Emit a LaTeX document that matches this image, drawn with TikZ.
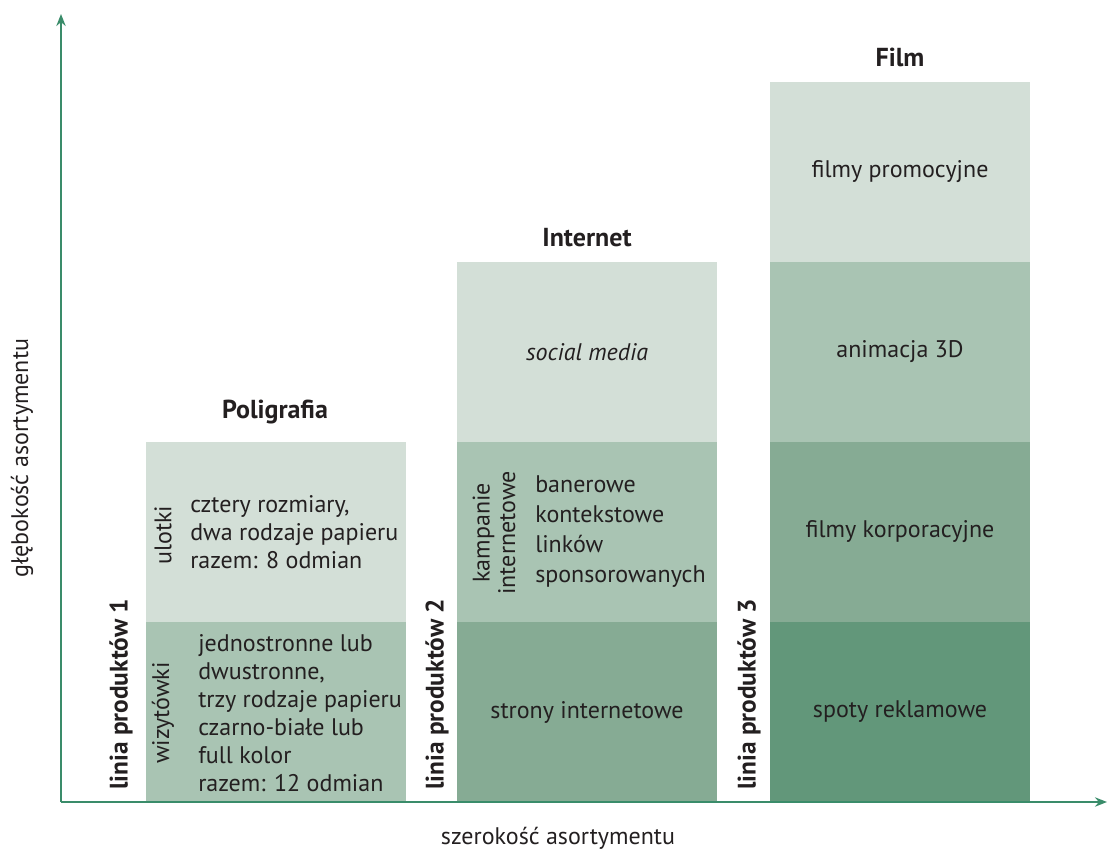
\documentclass[tikz,border=0pt]{standalone}
\usepackage{fontspec}
\setmainfont{PT Sans}
\usetikzlibrary{positioning, arrows.meta}
\definecolor{pale}{HTML}{D3DFD7}
\definecolor{light}{HTML}{A9C4B3}
\definecolor{mid}{HTML}{86AB94}
\definecolor{deep}{HTML}{62977A}
\definecolor{axisgreen}{HTML}{3A8C6A}
\definecolor{ink}{HTML}{231F20}

\begin{document}
\begin{tikzpicture}[x=0.75pt, y=-0.75pt,
    seg/.style={minimum width=195pt, minimum height=135pt, inner sep=0pt, outer sep=0pt, draw=none},
    txt/.style={text=ink, font=\fontsize{18}{21}\selectfont, align=left, inner sep=0pt},
    boxtext/.style={text=ink, font=\fontsize{18}{21}\selectfont, inner sep=0pt},
    side/.style={text=ink, font=\fontsize{18}{19}\selectfont, rotate=90, align=center, inner sep=0pt},
    prodline/.style={text=ink, font=\fontsize{19}{21}\selectfont\bfseries, rotate=90, anchor=west, inner sep=0pt},
    title/.style={text=ink, font=\fontsize{19.5}{21}\selectfont\bfseries, inner sep=0pt},
    axisarrow/.style={draw=axisgreen, line width=1.5pt, -{Stealth[length=9pt, width=7pt]}}]
    \useasboundingbox (0,0) rectangle (1107,853);

    % Poligrafia
    \node[seg, fill=light, anchor=south west] (wiz) at (146,802) {};
    \node[seg, fill=pale, above=0pt of wiz] (ulo) {};
    \node[title] (poli) at (275,412) {Poligrafia};
    \node[side] (wizlbl) at (163,713) {wizytówki};
    \node[txt, anchor=west] (wiztxt) at (198,713) {jednostronne lub\\dwustronne,\\trzy rodzaje papieru\\czarno-białe lub\\full kolor\\razem: 12 odmian};
    \node[side] (ulolbl) at (163,535) {ulotki};
    \node[txt, anchor=west] (ulotxt) at (190,532) {cztery rozmiary,\\dwa rodzaje papieru\\razem: 8 odmian};
    \node[prodline] (lin1) at (121,790) {linia produktów 1};

    % Internet
    \node[seg, fill=mid, anchor=south west] (www) at (457,802) {};
    \node[seg, fill=light, above=0pt of www] (kamp) {};
    \node[seg, fill=pale, above=0pt of kamp] (soc) {};
    \node[title, above=11pt of soc] (inet) {Internet};
    \node[boxtext] (wwwtxt) at (www) {strony internetowe};
    \node[side] (kamplbl) at (494,533) {kampanie\\internetowe};
    \node[txt, anchor=west, font=\fontsize{18}{22.5}\selectfont] (kamptxt) at (535,532) {banerowe\\kontekstowe\\linków\\sponsorowanych};
    \node[boxtext, font=\fontsize{18}{21}\selectfont\itshape] (soctxt) at (soc) {social media};
    \node[prodline] (lin2) at (437,790) {linia produktów 2};

    % Film
    \node[seg, fill=deep, anchor=south west] (spot) at (770,802) {};
    \node[seg, fill=mid, above=0pt of spot] (korp) {};
    \node[seg, fill=light, above=0pt of korp] (anim) {};
    \node[seg, fill=pale, above=0pt of anim] (promo) {};
    \node[title, above=11pt of promo] (film) {Film};
    \node[boxtext] (spottxt) at (spot) {spoty reklamowe};
    \node[boxtext] (korptxt) at (korp) {filmy korporacyjne};
    \node[boxtext] (animtxt) at (anim) {animacja 3D};
    \node[boxtext] (promotxt) at (promo) {filmy promocyjne};
    \node[prodline] (lin3) at (749,790) {linia produktów 3};

    % axes
    \coordinate (o) at (61,802);
    \coordinate (ytip) at (61,14);
    \coordinate (xtip) at (1107,802);
    \draw[axisarrow] (o) -- (ytip);
    \draw[axisarrow] (o) -- (xtip);
    \node[boxtext, rotate=90] (ylbl) at (22,458) {głębokość asortymentu};
    \node[boxtext] (xlbl) at (558,838) {szerokość asortymentu};
\end{tikzpicture}
\end{document}
